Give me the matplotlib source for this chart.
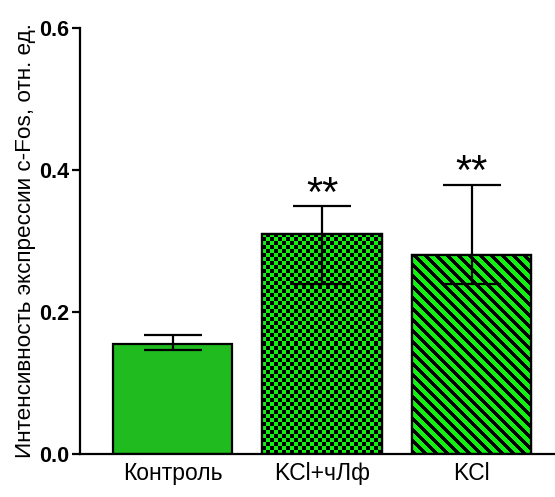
import numpy as np
import matplotlib.pyplot as plt
from matplotlib.colors import ListedColormap

plt.rcParams['font.family'] = ['Liberation Sans', 'DejaVu Sans']

# Data
groups = ['Контроль', 'KCl+чЛф', 'KCl']
means = [0.155, 0.31, 0.28]
err_low = [0.008, 0.071, 0.041]
err_high = [0.012, 0.039, 0.099]
stars = ['', '**', '**']
yticks = [0.0, 0.2, 0.4, 0.6]
ylabel = 'Интенсивность экспрессии c-Fos, отн. ед.'

solid_green = '#1fbb1f'
bright_green = '#14f014'

W, H, DPI = 555, 497, 100
fig = plt.figure(figsize=(W / DPI, H / DPI), dpi=DPI)
ax = fig.add_axes([80 / W, 43 / H, 475 / W, 426 / H])

x = np.arange(len(groups))
bar_w = 0.8
ax.set_xlim(-0.619, 2.558)
ax.set_ylim(0, 0.6)

colors = [solid_green, bright_green, bright_green]
bars = ax.bar(x, means, width=bar_w, color=colors, edgecolor='black',
              linewidth=1.6, zorder=2)

# fill patterns (checkerboard, diagonal stripes) as clipped images
fig.canvas.draw()
cmap = ListedColormap([bright_green, 'black'])
for k, kind in [(1, 'checker'), (2, 'stripes')]:
    b = bars[k]
    x0, x1 = x[k] - bar_w / 2, x[k] + bar_w / 2
    p0 = ax.transData.transform((x0, 0))
    p1 = ax.transData.transform((x1, means[k]))
    nx = int(round(p1[0] - p0[0]))
    ny = int(round(p1[1] - p0[1]))
    rows, cols = np.mgrid[0:ny, 0:nx]
    if kind == 'checker':
        pat = ((rows // 4 + cols // 4) % 2).astype(float)
    else:
        pat = (((cols - rows) % 11) < 5).astype(float)
    im = ax.imshow(pat, cmap=cmap, extent=[x0, x1, 0, means[k]], origin='upper',
                   interpolation='nearest', aspect='auto', zorder=2.5)
    im.set_clip_path(b)
    # redraw edge on top
    ax.bar(x[k], means[k], width=bar_w, color='none', edgecolor='black',
           linewidth=1.6, zorder=3)

ax.errorbar(x, means, yerr=[err_low, err_high], fmt='none', ecolor='black',
            elinewidth=1.6, capsize=21, capthick=1.6, zorder=4)

for xi, m, eh, s in zip(x, means, err_high, stars):
    if s:
        ax.text(xi, m + eh + 0.001, s, ha='center', va='baseline', fontsize=30)

ax.spines['top'].set_visible(False)
ax.spines['right'].set_visible(False)
ax.spines['left'].set_linewidth(1.6)
ax.spines['bottom'].set_linewidth(1.6)

ax.set_yticks(yticks)
ax.set_yticklabels([f'{t:.1f}' for t in yticks], fontsize=15.5, fontweight='bold')
ax.tick_params(axis='y', length=6, width=1.6, pad=2)
ax.set_xticks(x)
ax.set_xticklabels(groups, fontsize=16.5)
ax.tick_params(axis='x', length=0, pad=6)
ax.set_ylabel(ylabel, fontsize=16.2, labelpad=2)

fig.savefig('out.png', dpi=DPI)
